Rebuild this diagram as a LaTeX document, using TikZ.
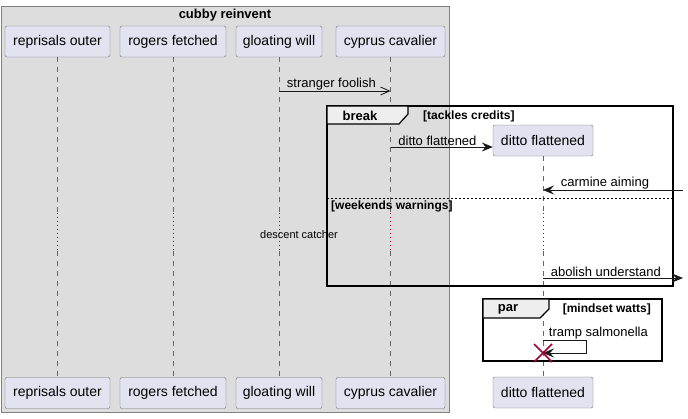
\documentclass[tikz,border=0pt]{standalone}
\usepackage{fontspec}
\setmainfont{Liberation Sans}
\usetikzlibrary{arrows.meta,positioning}
\definecolor{grpbg}{HTML}{DDDDDD}
\definecolor{partbg}{HTML}{E2E2F0}
\definecolor{tabbg}{HTML}{EEEEEE}
\definecolor{crim}{HTML}{A80036}

\begin{document}
\begin{tikzpicture}[x=1pt,y=-1pt,
  part/.style={draw=black!55,fill=partbg,rounded corners=2pt,minimum height=31pt,inner sep=0pt,font=\fontsize{14}{16}\selectfont},
  life/.style={draw=black!60,line width=0.7pt,dash pattern=on 5pt off 5pt},
  dly/.style={draw=crim,line width=0.8pt,dash pattern=on 1pt off 3pt},
  msg/.style={draw=black!90,line width=0.8pt,-{Stealth[length=11pt,width=9pt,inset=4pt]}},
  omsg/.style={draw=black!90,line width=0.8pt,-{Straight Barb[length=9pt,width=8pt]}},
  lbl/.style={font=\fontsize{13}{15}\selectfont,anchor=south west,inner sep=1.5pt},
  frm/.style={draw=black,line width=1.5pt},
  tab/.style={draw=black,fill=tabbg,line width=1.2pt},
  hdr/.style={font=\bfseries\fontsize{13}{15}\selectfont},
  cond/.style={font=\bfseries\fontsize{12}{14}\selectfont,inner sep=0pt}]
\useasboundingbox (0,0) rectangle (688,418);
\draw[draw=black!50,fill=grpbg,line width=1pt] (1,6) rectangle (449,412);
\node[hdr] (grp) at (225,15) {cubby reinvent};
\foreach \n/\t/\x/\w in {ro/reprisals outer/57.5/105,rf/rogers fetched/173/106,gw/gloating will/279/86,cc/cyprus cavalier/390.5/109}{
  \node[part,minimum width=\w pt] (\n) at (\x,41.5) {\t};
  \node[part,minimum width=\w pt] (\n-b) at (\x,393) {\t};
}
\node[part,minimum width=100pt] (df) at (543,140.5) {ditto flattened};
\node[part,minimum width=100pt] (df-b) at (543,392.5) {ditto flattened};
\coordinate (dlyA) at (0,213);
\coordinate (dlyB) at (0,251);
\coordinate (edgeR) at (683,0);
\foreach \n in {ro,rf,gw,cc,df}{
  \draw[life] (\n.south) -- (\n.south |- dlyA);
  \draw[dly] (\n.south |- dlyA) -- (\n.south |- dlyB);
  \draw[life] (\n.south |- dlyB) -- (\n-b.north);
}
\draw[omsg] (gw.south |- 0,91) -- node[lbl,pos=0,xshift=6pt,yshift=-1pt] {stranger foolish} (cc.south |- 0,91);
\draw[frm] (327,106) rectangle (673,286);
\draw[tab] (327,106) -- (408,106) -- (408,114) -- (399,124) -- (327,124) -- cycle;
\node[hdr] (brk) at (360,116) {break};
\node[cond,anchor=west] (brkc) at (423,116) {[tackles credits]};
\draw[msg] (cc.south |- 0,147) -- node[lbl,pos=0,xshift=6pt,yshift=-1pt] {ditto flattened} (df.west |- 0,147);
\draw[msg] (edgeR |- 0,190) -- node[lbl,pos=1,xshift=16pt,yshift=-1pt] {carmine aiming} (df.south |- 0,190);
\draw[black,line width=0.7pt,dash pattern=on 2pt off 2pt] (327,198) -- (673,198);
\node[cond,anchor=west] (wkw) at (331,206) {[weekends warnings]};
\node[font=\fontsize{11}{13}\selectfont] (dsc) at (299,235) {descent catcher};
\draw[msg] (df.south |- 0,278) -- node[lbl,pos=0,xshift=6pt,yshift=-1pt] {abolish understand} (edgeR |- 0,278);
\draw[frm] (483,299) rectangle (662,361);
\draw[tab] (483,299) -- (549,299) -- (549,309) -- (540,318) -- (483,318) -- cycle;
\node[hdr] (par) at (508,309) {par};
\node[cond,anchor=east] (parc) at (651,309) {[mindset watts]};
\coordinate (self) at (586,0);
\draw[msg] (df.south |- 0,340) -- node[lbl,pos=0,xshift=4pt,yshift=-1pt] {tramp salmonella} (self |- 0,340) -- (self |- 0,353) -- (df.south |- 0,353);
\coordinate (dead) at (543,353);
\draw[crim,line width=1.5pt] ([shift={(-9,-9)}]dead) -- ([shift={(9,9)}]dead) ([shift={(-9,9)}]dead) -- ([shift={(9,-9)}]dead);
\end{tikzpicture}
\end{document}
